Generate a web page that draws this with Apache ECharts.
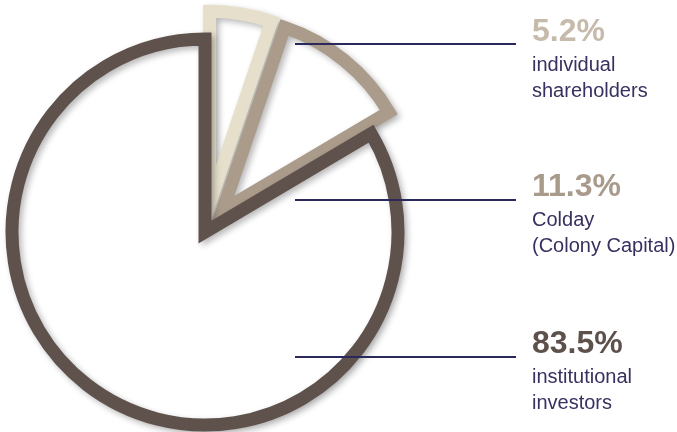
<!DOCTYPE html>
<html>
<head>
<meta charset="utf-8">
<script src="https://cdn.jsdelivr.net/npm/echarts@6/dist/echarts.min.js"></script>
<style>
  html, body { margin: 0; padding: 0; background: #fff; }
  #chart { width: 677px; height: 432px; }
</style>
</head>
<body>
<div id="chart"></div>
<script>
var myChart = echarts.init(document.getElementById('chart'));

// shareholding, in %
var names = ['individual shareholders', 'Colday (Colony Capital)', 'institutional investors'];
var values = [5.2, 11.3, 83.5];
var nameLines = [
    ['individual', 'shareholders'],
    ['Colday', '(Colony Capital)'],
    ['institutional', 'investors']
];
var exploded = [true, true, false];
var sliceColors = ['#e6dfcb', '#ab9b8b', '#5f524d'];
var pctColors = ['#c6bbab', '#a99b8b', '#5e514c'];

var labelTop = [12, 167, 324];   // label block tops
var lineY = [44, 200, 357];      // leader lines

var font = 'Liberation Sans, Arial, sans-serif';
var rich = {
    t: { fontSize: 20, lineHeight: 26, color: '#36315f', fontFamily: font }
};
pctColors.forEach(function (c, i) {
    rich['p' + i] = { fontSize: 32, fontWeight: 'bold', lineHeight: 40, color: c, fontFamily: font };
});

var sliceData = values.map(function (v, i) {
    var st = {
        color: '#fff',
        borderColor: sliceColors[i],
        borderWidth: 13,
        borderJoin: 'miter',
        shadowBlur: 6,
        shadowColor: 'rgba(0,0,0,0.28)',
        shadowOffsetX: 3,
        shadowOffsetY: 3
    };
    return { name: names[i], value: v, selected: exploded[i], itemStyle: st, select: { itemStyle: st } };
});

var labelData = values.map(function (v, i) {
    return { name: names[i], value: v };
});

myChart.setOption({
    animation: false,
    backgroundColor: '#fff',
    graphic: lineY.map(function (y) {
        return {
            type: 'line',
            z: 100,
            shape: { x1: 295, y1: y, x2: 516, y2: y },
            style: { stroke: '#2b295b', lineWidth: 2 }
        };
    }),
    series: [{
        type: 'pie',
        center: [205, 232],
        radius: [0, 193],
        startAngle: 90,
        clockwise: true,
        selectedMode: 'multiple',
        selectedOffset: 28,
        emphasis: { disabled: true },
        label: { show: false },
        labelLine: { show: false },
        data: sliceData
    }, {
        // labels only
        type: 'pie',
        silent: true,
        z: 1,
        center: [205, 232],
        radius: [0, 193],
        startAngle: 90,
        clockwise: true,
        avoidLabelOverlap: false,
        emphasis: { disabled: true },
        itemStyle: { color: 'rgba(0,0,0,0)', borderWidth: 0 },
        label: {
            show: true,
            formatter: function (p) {
                var i = p.dataIndex;
                return '{p' + i + '|' + p.value + '%}\n{t|' + nameLines[i][0] + '}\n{t|' + nameLines[i][1] + '}';
            },
            rich: rich
        },
        labelLine: { show: false },
        labelLayout: function (p) {
            return { x: 532, y: labelTop[p.dataIndex], align: 'left', verticalAlign: 'top' };
        },
        data: labelData
    }]
});
</script>
</body>
</html>
